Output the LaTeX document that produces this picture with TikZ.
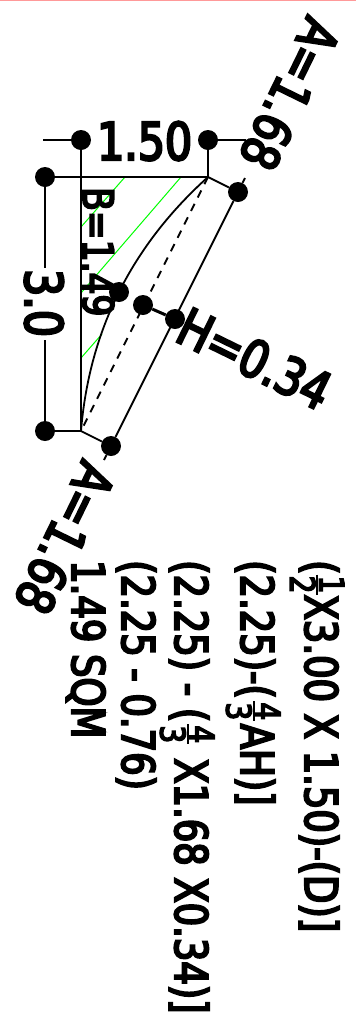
\documentclass[tikz,border=0pt]{standalone}
\usepackage{fontspec}
\newfontfamily\cadfont[FakeStretch=.82,FakeBold=4.5]{DejaVu Sans}
\usetikzlibrary{positioning}
\newcommand{\stackfrac}[3]{\makebox[#1pt]{\makebox[0pt]{\raisebox{6pt}{$\vcenter{\fontsize{34}{34}\selectfont
  \hbox to 20pt{\hss #2\hss}\kern1pt\hrule height 2pt\kern1pt\hbox to 20pt{\hss #3\hss}}$}}}}

\begin{document}
\begin{tikzpicture}
[x=1pt,y=-1pt,
  lineDecorate/.style={-,line width=1.8pt,black},%
  hatchDecorate/.style={-,line width=1pt,green},%
  nodeDecorate/.style={shape=circle,fill=black,inner sep=0pt,minimum size=20pt},%
  bigText/.style={anchor=base west,inner sep=0pt,font=\cadfont\fontsize{52}{52}\selectfont},%
  midText/.style={anchor=base west,inner sep=0pt,font=\cadfont\fontsize{42}{42}\selectfont},%
  workText/.style={anchor=base west,inner sep=0pt,font=\cadfont\fontsize{45}{45}\selectfont}]
\useasboundingbox (0,0) rectangle (356,1021);
\fill[white] (0,0) rectangle (356,1021);
\fill[red!40!white] (0,0) rectangle (356,1);
%% corners and free ends
\foreach \nodename/\x/\y in {
  topL/81/177, topR/208/177, botL/81/431, stubL/43/140, stubR/246/140,
  gapA/45/268, gapB/45/340, stubA/245/178, stubB/104/460,
  hatchA/125/177, hatchAend/81/227, hatchB/181/177, hatchBend/81/293,
  hatchC/102/334, hatchCend/81/358}
{
  \coordinate (\nodename) at (\x,\y);
}
%% dots
\foreach \nodename/\x/\y in {
  dimL/81/140, dimR/208/140, sideT/45/177, sideB/45/431,
  chordT/238/192, chordB/111/446, arcMid/119/292,
  riseA/143/305, riseB/175/319}
{
  \node (\nodename) at (\x,\y) [nodeDecorate] {};
}
%% hatch
\path
\foreach \startnode/\endnode in {hatchA/hatchAend, hatchB/hatchBend, hatchC/hatchCend}
{
  (\startnode) edge[hatchDecorate] node {} (\endnode)
};
%% lines
\path
\foreach \startnode/\endnode in {
  stubL/dimL, dimR/stubR, dimL/botL, dimR/topR, sideT/topR, sideT/gapA,
  gapB/sideB, sideB/botL, topR/chordT, botL/chordB, chordT/chordB,
  chordT/stubA, chordB/stubB}
{
  (\startnode) edge[lineDecorate] node {} (\endnode)
};
\draw[lineDecorate,line width=3pt] (riseA) -- (riseB);
\draw[lineDecorate,dash pattern=on 8pt off 7pt] (topR) -- (botL);
\draw[lineDecorate] (topR) .. controls (131.7,245.7) and (89.3,330.3) .. (botL);
%% labels
\foreach \nodename/\x/\y/\angle/\look/\words in {
  lenTop/308/14/-116/bigText/{A=1.68},
  lenBot/83/458/-116/bigText/{A=1.68},
  width/97/160/0/bigText/{1.50},
  depth/25/269/-90/bigText/{3.0},
  rise/173/340/-26/bigText/{H=0.34},
  bowl/83/187/-90/midText/{B=1.49},
  stepA/305/560/-90/workText/{(\stackfrac{20}{1}{2}X3.00 X 1.50)-(D)]},
  stepB/241/560/-90/workText/{(2.25)-(\stackfrac{25}{4}{3}AH)]},
  stepC/175/560/-90/workText/{(2.25) - (\stackfrac{24}{4}{3}\kern12pt X1.68 X0.34)]},
  stepD/122/560/-90/workText/{(2.25 - 0.76)},
  stepE/72/560/-90/workText/{1.49 SQM}}
{
  \node (\nodename) at (\x,\y) [\look,rotate=\angle] {\words};
}
\end{tikzpicture}
\end{document}
